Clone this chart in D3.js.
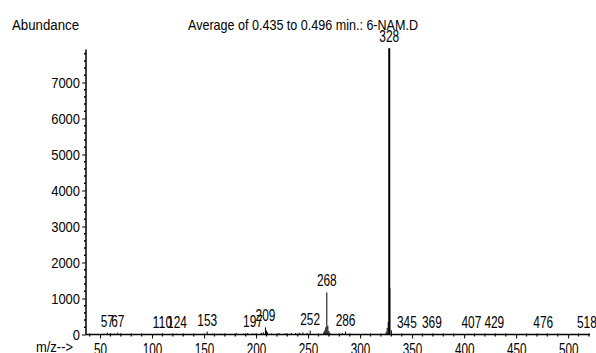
<!DOCTYPE html>
<html>
<head>
<meta charset="utf-8">
<script src="https://cdn.jsdelivr.net/npm/d3@7"></script>
<style>
  body { margin: 0; background: #fff; }
  text { font-family: "Liberation Sans", Arial, sans-serif; fill: #000; }
</style>
</head>
<body>
<div id="chart"></div>
<script>
// labelled peaks (m/z, abundance)
var peakMz  = [57, 67, 110, 124, 153, 197, 209, 252, 268, 286, 328, 345, 369, 407, 429, 476, 518];
var peakAb  = [50, 50, 20, 20, 80, 30, 200, 110, 1170, 80, 7950, 15, 15, 10, 10, 10, 10];
// unlabelled small ions / noise near the baseline
var minorMz = [55, 60, 64, 70, 150, 158, 166, 175, 181, 188, 192, 200, 205, 207, 210, 211, 215, 222, 228, 234, 238, 242, 245, 249, 265, 266, 267, 269, 270, 271, 283, 325, 326, 327, 329, 330];
var minorAb = [20, 30, 25, 20, 30, 20, 25, 20, 30, 25, 40, 40, 50, 60, 110, 60, 30, 40, 30, 40, 40, 50, 60, 40, 60, 110, 200, 240, 100, 40, 40, 70, 180, 350, 1300, 120];
var yTicks = [0, 1000, 2000, 3000, 4000, 5000, 6000, 7000];
var xTicks = [50, 100, 150, 200, 250, 300, 350, 400, 450, 500];

var W = 596, H = 353;

var svg = d3.select("#chart").append("svg")
    .attr("width", W)
    .attr("height", H);

var x = d3.scaleLinear().domain([36.5, 521]).range([86, 590]);
var y = d3.scaleLinear().domain([0, 8000]).range([334.5, 46.5]);

// narrow, tall digits like the reference
function narrow(size, digit) {
    return function (sel) {
        sel.attr("font-size", size)
            .attr("font-family", null)
            .attr("lengthAdjust", "spacingAndGlyphs")
            .attr("textLength", function () { return this.textContent.length * digit; });
    };
}

// titles
svg.append("text")
    .attr("x", 12).attr("y", 30)
    .attr("font-size", 14)
    .attr("textLength", 67).attr("lengthAdjust", "spacingAndGlyphs")
    .text("Abundance");
svg.append("text")
    .attr("x", 188).attr("y", 30)
    .attr("font-size", 15)
    .attr("textLength", 230).attr("lengthAdjust", "spacingAndGlyphs")
    .text("Average of 0.435 to 0.496 min.: 6-NAM.D");

// y axis
var yAxis = d3.axisLeft(y)
    .tickValues(yTicks)
    .tickSize(4)
    .tickPadding(2)
    .tickFormat(d3.format("d"));
var gy = svg.append("g")
    .attr("transform", "translate(86,0)")
    .call(yAxis);
gy.select(".domain").remove();
gy.selectAll("text").call(narrow(15, 7.2));
gy.append("line")
    .attr("x1", 0).attr("x2", 0)
    .attr("y1", y(0)).attr("y2", y(7920))
    .attr("stroke", "#000").attr("stroke-width", 1.5);
gy.selectAll(".minor")
    .data(d3.range(200, 7900, 200).filter(function (d) { return d % 1000 !== 0; }))
    .enter().append("line")
    .attr("x1", -2).attr("x2", 0)
    .attr("y1", function (d) { return y(d); })
    .attr("y2", function (d) { return y(d); })
    .attr("stroke", "#000").attr("stroke-width", 1.5);

// x axis
var xAxis = d3.axisBottom(x)
    .tickValues(xTicks)
    .tickSize(4)
    .tickPadding(5);
var gx = svg.append("g")
    .attr("transform", "translate(0," + y(0) + ")")
    .call(xAxis);
gx.select(".domain").remove();
gx.selectAll("text").call(narrow(16, 6.5));
gx.append("line")
    .attr("x1", x(36.5)).attr("x2", x(521))
    .attr("y1", 0).attr("y2", 0)
    .attr("stroke", "#000").attr("stroke-width", 1.5);
gx.selectAll(".minor")
    .data(d3.range(40, 521, 10).filter(function (d) { return d % 50 !== 0; }))
    .enter().append("line")
    .attr("x1", function (d) { return x(d); })
    .attr("x2", function (d) { return x(d); })
    .attr("y1", -1).attr("y2", 2)
    .attr("stroke", "#000").attr("stroke-width", 1.2);

svg.append("text")
    .attr("x", 36).attr("y", 352)
    .attr("font-size", 15)
    .attr("textLength", 37).attr("lengthAdjust", "spacingAndGlyphs")
    .text("m/z-->");

// spectrum sticks
var sticks = svg.append("g");
sticks.selectAll(".minorpk")
    .data(d3.zip(minorMz, minorAb))
    .enter().append("line")
    .attr("x1", function (d) { return x(d[0]); })
    .attr("x2", function (d) { return x(d[0]); })
    .attr("y1", y(0))
    .attr("y2", function (d) { return y(d[1]); })
    .attr("stroke", function (d) { return d[0] === 329 ? "#888" : "#000"; })
    .attr("stroke-width", 1);
sticks.selectAll(".pk")
    .data(d3.zip(peakMz, peakAb))
    .enter().append("line")
    .attr("x1", function (d) { return x(d[0]); })
    .attr("x2", function (d) { return x(d[0]); })
    .attr("y1", y(0))
    .attr("y2", function (d) { return y(d[1]); })
    .attr("stroke", "#000")
    .attr("stroke-width", function (d) { return d[0] === 328 ? 2 : 1; });

// peak labels
svg.selectAll(".plabel")
    .data(d3.zip(peakMz, peakAb))
    .enter().append("text")
    .attr("x", function (d) { return x(d[0]); })
    .attr("y", function (d) { return y(d[1]) - 6; })
    .attr("text-anchor", "middle")
    .text(function (d) { return d[0]; })
    .call(narrow(16, 6.6));
</script>
</body>
</html>
